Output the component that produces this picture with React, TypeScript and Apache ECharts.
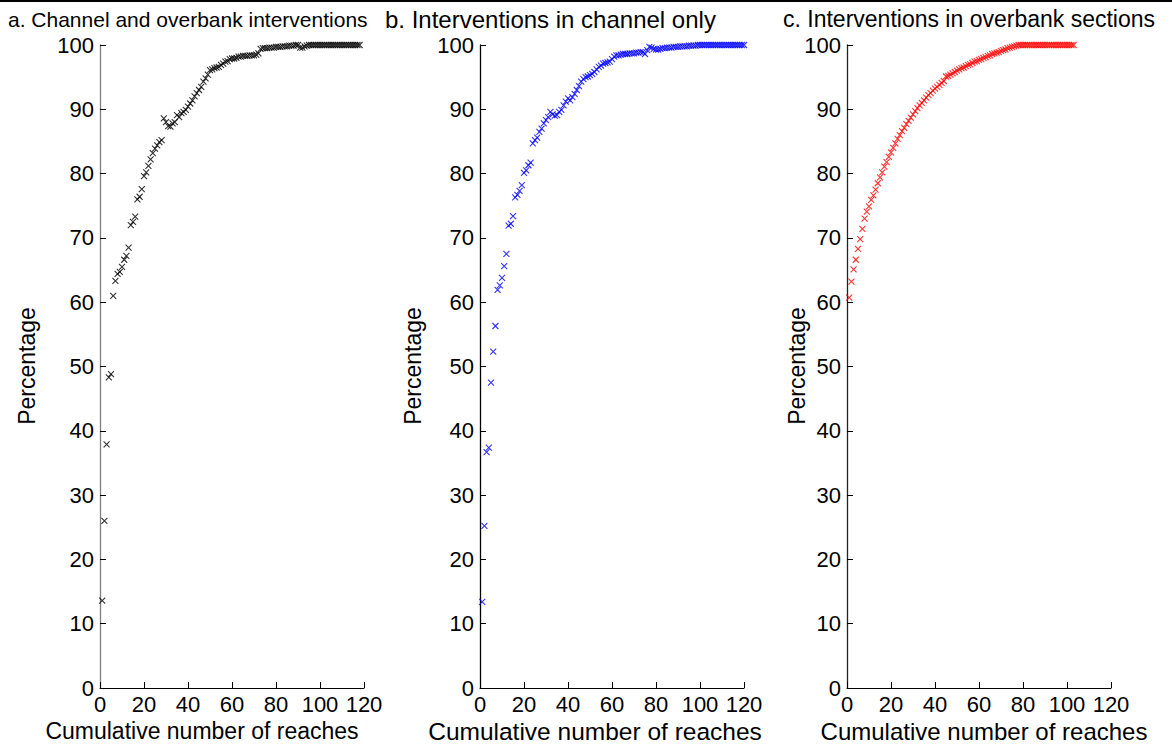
import React, { useEffect, useRef } from "react";
import * as echarts from "echarts";

// Panel a: Channel and overbank interventions (x = 1..n)
const valuesA = [
  13.6, 26.0, 37.9, 48.3, 48.8, 61.0, 63.3, 64.4, 64.7, 65.5,
  66.6, 67.2, 68.5, 72.0, 72.5, 73.3, 76.0, 76.4, 77.6, 79.6,
  80.2, 81.2, 82.2, 83.2, 83.9, 84.4, 84.9, 85.2, 88.6, 88.0,
  87.4, 87.3, 87.8, 88.0, 89.1, 88.8, 89.4, 89.6, 89.9, 90.4,
  90.9, 91.4, 92.0, 92.5, 93.0, 93.5, 94.3, 94.8, 95.4, 96.1,
  96.2, 96.4, 96.5, 96.6, 96.9, 97.1, 97.4, 97.5, 97.8, 97.9,
  97.9, 98.0, 98.2, 98.2, 98.3, 98.3, 98.3, 98.4, 98.4, 98.4,
  98.5, 98.7, 99.4, 99.5, 99.5, 99.5, 99.6, 99.6, 99.6, 99.7,
  99.7, 99.7, 99.8, 99.8, 99.8, 99.9, 99.9, 99.9, 100, 100,
  99.6, 99.6, 99.8, 99.9, 100, 100, 100, 100, 100, 100,
  100, 100, 100, 100, 100, 100, 100, 100, 100, 100,
  100, 100, 100, 100, 100, 100, 100, 100,
];

// Panel b: Interventions in channel only
const valuesB = [
  13.4, 25.2, 36.7, 37.4, 47.5, 52.3, 56.3, 61.9, 62.6, 63.8,
  65.6, 67.5, 71.9, 72.2, 73.4, 76.3, 76.7, 77.3, 78.2, 80.1,
  80.5, 81.3, 81.7, 84.7, 85.2, 85.6, 86.5, 87.0, 87.8, 88.3,
  88.8, 89.6, 89.2, 89.0, 89.1, 89.6, 89.9, 90.6, 91.2, 91.7,
  91.4, 91.9, 92.4, 93.0, 93.6, 94.3, 94.7, 95.0, 95.1, 95.3,
  95.5, 95.8, 96.2, 96.6, 96.8, 97.1, 97.2, 97.3, 97.4, 97.8,
  98.2, 98.4, 98.4, 98.5, 98.6, 98.6, 98.6, 98.7, 98.7, 98.7,
  98.8, 98.8, 98.9, 98.9, 98.6, 99.2, 99.7, 99.6, 99.4, 99.3,
  99.3, 99.4, 99.5, 99.5, 99.6, 99.6, 99.6, 99.7, 99.7, 99.7,
  99.8, 99.8, 99.8, 99.8, 99.9, 99.9, 99.9, 99.9, 100, 100,
  100, 100, 100, 100, 100, 100, 100, 100, 100, 100,
  100, 100, 100, 100, 100, 100, 100, 100, 100, 100,
];

// Panel c: Interventions in overbank sections
const valuesC = [
  60.7, 63.2, 65.1, 66.6, 68.3, 69.8, 71.4, 73.0, 74.1, 74.9,
  75.9, 76.6, 77.5, 78.5, 79.4, 80.2, 81.1, 81.8, 82.6, 83.3,
  84.0, 84.7, 85.4, 86.0, 86.6, 87.1, 87.7, 88.2, 88.7, 89.2,
  89.7, 90.2, 90.6, 91.0, 91.4, 91.8, 92.2, 92.5, 92.9, 93.2,
  93.5, 93.8, 94.1, 94.4, 95.1, 95.2, 95.4, 95.6, 95.8, 96.0,
  96.2, 96.4, 96.5, 96.7, 96.9, 97.0, 97.2, 97.4, 97.5, 97.7,
  97.8, 98.0, 98.1, 98.3, 98.4, 98.6, 98.7, 98.8, 98.9, 99.1,
  99.2, 99.3, 99.5, 99.6, 99.7, 99.8, 99.9, 100, 100, 100,
  100, 100, 100, 100, 100, 100, 100, 100, 100, 100,
  100, 100, 100, 100, 100, 100, 100, 100, 100, 100,
  100, 100, 100,
];

const titles = [
  "a. Channel and overbank interventions",
  "b. Interventions in channel only",
  "c. Interventions in overbank sections",
];
const yLabel = "Percentage";
const xLabel = "Cumulative number of reaches";
const colors = ["#000000", "#0000ff", "#ff0000"];

const FONT = "'Liberation Sans', Arial, Helvetica, sans-serif";
const FS_TICK = 22;
const FS_YLABEL = 23;

export default function App() {
  const ref = useRef<HTMLDivElement>(null);
  useEffect(() => {
    if (!ref.current) return;
    const chart = echarts.init(ref.current, null, { renderer: "svg" });
    const lefts = [100, 480, 847];
    const W = 264;
    const top = 45;
    const H = 643;
    const allData = [valuesA, valuesB, valuesC];
    const axisColors = ["#7f7f7f", "#000", "#222"];

    const grid = lefts.map((l) => ({ left: l, top, width: W, height: H, outerBoundsMode: "none" }));
    const xAxis = lefts.map((_, i) => ({
      type: "value",
      gridIndex: i,
      min: 0,
      max: 120,
      interval: 20,
      splitLine: { show: false },
      axisLine: { show: true, onZero: false, lineStyle: { color: "#000", width: 1 } },
      axisTick: { show: true, inside: true, length: 6, lineStyle: { color: "#000" } },
      axisLabel: { color: "#000", fontSize: FS_TICK, fontFamily: FONT, margin: 5 },
    }));
    const yAxis = lefts.map((_, i) => ({
      type: "value",
      gridIndex: i,
      min: 0,
      max: 100,
      interval: 10,
      splitLine: { show: false },
      axisLine: { show: true, onZero: false, lineStyle: { color: axisColors[i], width: 1.3 } },
      axisTick: { show: true, inside: true, length: 6, lineStyle: { color: "#000" } },
      axisLabel: { color: "#000", fontSize: FS_TICK, fontFamily: FONT, margin: 6 },
    }));
    const series = allData.map((vals, i) => ({
      type: "scatter",
      xAxisIndex: i,
      yAxisIndex: i,
      symbol: "path://M0,0L10,10M10,0L0,10",
      symbolSize: 6,
      itemStyle: { color: "rgba(0,0,0,0)", borderColor: colors[i], borderWidth: 1.1 },
      data: vals.map((v, k) => [k + 1, v]),
      silent: true,
    }));

    const titleX = [8, 385, 783];
    const titleFS = [21, 24, 23];
    const yLabelX = [27, 413, 797];
    const xLabelX = [202, 595, 984];
    const xLabelFS = [23, 24.5, 24];
    const graphic: any[] = [
      { type: "rect", shape: { x: 0, y: 0, width: 1172, height: 2 }, style: { fill: "#000" } },
    ];
    for (let i = 0; i < 3; i++) {
      graphic.push({
        type: "text",
        x: titleX[i],
        y: 19,
        style: { text: titles[i], fontSize: titleFS[i], fontFamily: FONT, fill: "#000", align: "left", verticalAlign: "middle" },
      });
      graphic.push({
        type: "text",
        x: yLabelX[i],
        y: 366,
        rotation: Math.PI / 2,
        style: { text: yLabel, fontSize: FS_YLABEL, fontFamily: FONT, fill: "#000", align: "center", verticalAlign: "middle" },
      });
      graphic.push({
        type: "text",
        x: xLabelX[i],
        y: 731,
        style: { text: xLabel, fontSize: xLabelFS[i], fontFamily: FONT, fill: "#000", align: "center", verticalAlign: "middle" },
      });
    }

    chart.setOption({
      animation: false,
      backgroundColor: "#fff",
      grid,
      xAxis,
      yAxis,
      series,
      graphic,
    });
    return () => chart.dispose();
  }, []);
  return (
    <div
      ref={ref}
      style={{ position: "absolute", left: 0, top: 0, width: 1172, height: 747 }}
    />
  );
}
